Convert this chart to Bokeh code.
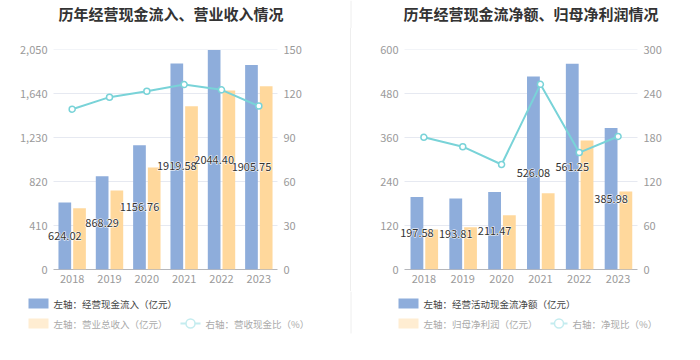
from bokeh.plotting import figure
from bokeh.models import (Range1d, LinearAxis, FixedTicker, NumeralTickFormatter,
                          ColumnDataSource, FactorRange)
from bokeh.transform import dodge
from bokeh.layouts import row, column
from bokeh.core.properties import value
from bokeh.embed import file_html
from bokeh.resources import INLINE

# ---------------- data ----------------
years = ["2018", "2019", "2020", "2021", "2022", "2023"]

cash_in = [624.02, 868.29, 1156.76, 1919.58, 2044.40, 1905.75]
revenue = [571, 736, 950, 1522, 1668, 1708]
cash_ratio = [109.3, 117.5, 121.6, 126.1, 122.5, 111.4]

net_cash = [197.58, 193.81, 211.47, 526.08, 561.25, 385.98]
net_profit = [109, 115, 148, 208, 352, 213]
net_ratio = [180.3, 167.5, 143.2, 252.5, 159.4, 181.4]

left_ticks_a = [0, 410, 820, 1230, 1640, 2050]
right_ticks_a = [0, 30, 60, 90, 120, 150]
left_ticks_b = [0, 120, 240, 360, 480, 600]
right_ticks_b = [0, 60, 120, 180, 240, 300]

titles = ["历年经营现金流入、营业收入情况", "历年经营现金流净额、归母净利润情况"]
legend_a = ["左轴：经营现金流入（亿元）", "左轴：营业总收入（亿元）", "右轴：营收现金比（%）"]
legend_b = ["左轴：经营活动现金流净额（亿元）", "左轴：归母净利润（亿元）", "右轴：净现比（%）"]

# ---------------- style ----------------
FONT = "Noto Sans CJK SC"
BLUE = "#8EADDB"
ORANGE = "#FFD89C"
CYAN = "#79D3D8"
FADED_ORANGE = "#FFEDD2"
FADED_CYAN = "#C4ECEF"
GRID = "#E6E9F1"
TICK = "#9A9A9A"
AXIS = "#6E7079"
DIVIDER = "#EEEEEE"

TOTAL_W = 684
HEAD_H = 28
CHART_H = 263          # chart figures: page y 28 .. 291
LEG_H = 53             # legend strip: page y 291 .. 344
FRAME_TOP = 49 - HEAD_H
FRAME_BOTTOM = 269 - HEAD_H


def blank_strip(height):
    q = figure(width=TOTAL_W, height=height, x_range=Range1d(0, TOTAL_W),
               y_range=Range1d(height, 0), output_backend="svg",
               toolbar_location=None, x_axis_type=None, y_axis_type=None,
               min_border=0)
    q.outline_line_color = None
    q.grid.visible = False
    q.background_fill_color = None
    q.border_fill_color = None
    return q


def make_chart(a, b, r, lticks, rticks, width, bl, br, pad, off_a, off_b, w):
    src = ColumnDataSource(dict(
        year=years, a=a, b=b, r=r,
        a_mid=[v / 2 for v in a],
        a_txt=[f"{v:.2f}" for v in a],
    ))
    xr = FactorRange(*years, range_padding=pad, range_padding_units="absolute")
    p = figure(width=width, height=CHART_H, x_range=xr,
               y_range=Range1d(0, lticks[-1]), output_backend="svg",
               toolbar_location=None,
               min_border_left=bl, min_border_right=br,
               min_border_top=FRAME_TOP, min_border_bottom=CHART_H - FRAME_BOTTOM)
    p.extra_y_ranges = {"r": Range1d(0, rticks[-1])}
    p.outline_line_color = None
    p.background_fill_color = "white"
    p.border_fill_color = "white"
    p.grid.visible = False

    for ax in p.yaxis:
        ax.ticker = FixedTicker(ticks=lticks)
        ax.formatter = NumeralTickFormatter(format="0,0")
    rax = LinearAxis(y_range_name="r", ticker=FixedTicker(ticks=rticks))
    p.add_layout(rax, "right")
    for ax in [p.yaxis[0], rax]:
        ax.axis_line_color = None
        ax.major_tick_line_color = None
        ax.minor_tick_line_color = None
        ax.major_tick_out = 0
        ax.major_tick_in = 0
        ax.major_label_text_color = TICK
        ax.major_label_text_font = FONT
        ax.major_label_text_font_size = "11px"
        ax.major_label_standoff = 0
    xa = p.xaxis[0]
    xa.axis_line_color = None
    xa.major_tick_line_color = None
    xa.minor_tick_line_color = None
    xa.major_tick_out = 0
    xa.major_tick_in = 0
    xa.major_label_text_color = TICK
    xa.major_label_text_font = FONT
    xa.major_label_text_font_size = "11px"
    xa.major_label_standoff = 5

    # horizontal grid lines over the category band, base line at 0
    n = len(lticks)
    gsrc = ColumnDataSource(dict(y=lticks, x0=[years[0]] * n, x1=[years[-1]] * n,
                                 c=[AXIS] + [GRID] * (n - 1)))
    p.segment(x0=dodge("x0", -0.5, range=xr), x1=dodge("x1", 0.5, range=xr),
              y0="y", y1="y", line_color="c", line_width=1, source=gsrc)

    p.vbar(x=dodge("year", off_a, range=xr), top="a", width=w,
           source=src, fill_color=BLUE, line_color=None)
    p.vbar(x=dodge("year", off_b, range=xr), top="b", width=w,
           source=src, fill_color=ORANGE, line_color=None)
    p.line(x="year", y="r", y_range_name="r", source=src,
           line_color=CYAN, line_width=2)
    p.scatter(x="year", y="r", y_range_name="r", source=src, marker="circle",
              size=6, fill_color="white", line_color=CYAN, line_width=1.5)
    # white halo, then dark text on top
    p.text(x=dodge("year", off_a, range=xr), y="a_mid", text="a_txt",
           source=src, text_align="center", text_baseline="middle",
           text_font=value(FONT), text_font_size="11px", text_color="white",
           text_outline_color="white")
    p.text(x=dodge("year", off_a, range=xr), y="a_mid", text="a_txt",
           source=src, text_align="center", text_baseline="middle",
           text_font=value(FONT), text_font_size="11px", text_color="#333333")
    return p


# ---- header strip with the two titles ----
head = blank_strip(HEAD_H)
head.text(x=[58, 403], y=[13, 13], text=titles, text_align="left",
          text_baseline="middle", text_font=value(FONT), text_font_size="15px",
          text_font_style="bold", text_color="#333333")
head.segment(x0=[350.5], x1=[350.5], y0=[0], y1=[HEAD_H],
             line_color=DIVIDER, line_width=1)

# ---- charts ----
p1 = make_chart(cash_in, revenue, cash_ratio, left_ticks_a, right_ticks_a,
                350, 47, 67, 6 / 37.33, -0.197, 0.197, 0.34)
p2 = make_chart(net_cash, net_profit, net_ratio, left_ticks_b, right_ticks_b,
                334, 48, 41, 6 / 38.83, -0.18, 0.2, 0.33)
p1.styles = {"box-shadow": "1px 0 0 #EEEEEE"}
p2.border_fill_color = None

# ---- legend strip ----
leg = blank_strip(LEG_H)
y1, y2 = 12, 32
for labels, sw_x, icon_x, icon_w in [(legend_a, 28, 180, 20), (legend_b, 398, 550, 17)]:
    leg.quad(left=[sw_x, sw_x], right=[sw_x + 20, sw_x + 20],
             top=[y1 - 5, y2 - 5], bottom=[y1 + 5, y2 + 5],
             fill_color=[BLUE, FADED_ORANGE], line_color=None)
    leg.segment(x0=[icon_x], x1=[icon_x + icon_w], y0=[y2], y1=[y2],
                line_color=FADED_CYAN, line_width=2)
    leg.scatter(x=[icon_x + icon_w / 2], y=[y2], marker="circle", size=9,
                fill_color="white", line_color=FADED_CYAN, line_width=1.5)
    leg.text(x=[sw_x + 25, sw_x + 25, icon_x + icon_w + 5], y=[y1, y2, y2],
             text=labels, text_align="left", text_baseline="middle",
             text_font=value(FONT), text_font_size="9.5px",
             text_color=["#444444", "#AAAAAA", "#AAAAAA"])
leg.segment(x0=[350.5], x1=[350.5], y0=[0], y1=[42],
            line_color=DIVIDER, line_width=1)

layout = column(head, row(p1, p2), leg)
open("out.html", "w").write(file_html(layout, INLINE))
